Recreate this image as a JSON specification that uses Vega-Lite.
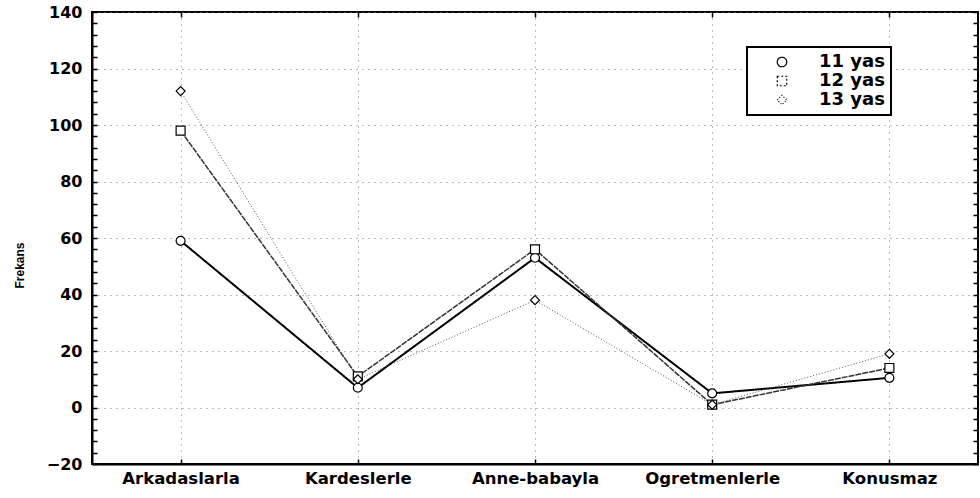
{
  "$schema": "https://vega.github.io/schema/vega-lite/v6.json",
  "width": 886,
  "height": 452,
  "autosize": {"type": "none"},
  "padding": {"left": 92, "top": 12, "right": 2, "bottom": 34},
  "background": "white",
  "config": {
    "view": {"stroke": "black", "strokeWidth": 2},
    "font": "DejaVu Sans"
  },
  "data": {
    "values": [
      {"cat": "Arkadaslarla", "series": "11 yas", "value": 59},
      {"cat": "Kardeslerle", "series": "11 yas", "value": 7},
      {"cat": "Anne-babayla", "series": "11 yas", "value": 53},
      {"cat": "Ogretmenlerle", "series": "11 yas", "value": 5},
      {"cat": "Konusmaz", "series": "11 yas", "value": 10.5},
      {"cat": "Arkadaslarla", "series": "12 yas", "value": 98},
      {"cat": "Kardeslerle", "series": "12 yas", "value": 11},
      {"cat": "Anne-babayla", "series": "12 yas", "value": 56},
      {"cat": "Ogretmenlerle", "series": "12 yas", "value": 1},
      {"cat": "Konusmaz", "series": "12 yas", "value": 14},
      {"cat": "Arkadaslarla", "series": "13 yas", "value": 112},
      {"cat": "Kardeslerle", "series": "13 yas", "value": 10},
      {"cat": "Anne-babayla", "series": "13 yas", "value": 38},
      {"cat": "Ogretmenlerle", "series": "13 yas", "value": 1},
      {"cat": "Konusmaz", "series": "13 yas", "value": 19}
    ]
  },
  "resolve": {"axis": {"x": "independent", "y": "independent"}},
  "layer": [
    {
      "mark": {"type": "line"},
      "encoding": {
        "x": {
          "field": "cat", "type": "nominal", "sort": null,
          "scale": {"type": "point", "padding": 0.5},
          "axis": {
            "orient": "bottom", "title": null, "labelAngle": 0,
            "labelFont": "DejaVu Sans", "labelFontWeight": "bold", "labelFontSize": 16.5, "labelColor": "black",
            "labelPadding": 11,
            "tickSize": -5, "tickColor": "black", "tickWidth": 1.5,
            "domainColor": "black", "domainWidth": 2,
            "grid": true, "gridColor": "#777", "gridDash": [1, 5], "gridWidth": 1
          }
        },
        "y": {
          "field": "value", "type": "quantitative",
          "scale": {"domain": [-20, 140], "nice": false, "zero": false},
          "axis": {
            "orient": "left",
            "title": "Frekans",
            "titleFont": "Liberation Sans", "titleFontWeight": "bold", "titleFontSize": 12, "titleColor": "black",
            "titleX": -66, "titleY": 253,
            "values": [-20,-16,-12,-8,-4,0,4,8,12,16,20,24,28,32,36,40,44,48,52,56,60,64,68,72,76,80,84,88,92,96,100,104,108,112,116,120,124,128,132,136,140],
            "labelExpr": "datum.value % 20 === 0 ? datum.label : ''",
            "labelOverlap": false,
            "labelFont": "DejaVu Sans", "labelFontWeight": "bold", "labelFontSize": 16, "labelColor": "black",
            "labelPadding": 15,
            "tickSize": -5,
            "tickColor": "black", "tickWidth": 1.5,
            "domainColor": "black", "domainWidth": 2,
            "grid": true, "gridColor": "#777", "gridDash": [1, 5], "gridWidth": 1,
            "gridOpacity": {"condition": {"test": "datum.value % 20 === 0", "value": 1}, "value": 0}
          }
        },
        "detail": {"field": "series"},
        "strokeDash": {
          "field": "series", "type": "nominal", "legend": null,
          "scale": {"domain": ["11 yas", "12 yas", "13 yas"], "range": [[1, 0], [6, 1], [1, 2]]}
        },
        "strokeWidth": {
          "field": "series", "type": "nominal", "legend": null,
          "scale": {"domain": ["11 yas", "12 yas", "13 yas"], "range": [2, 1, 1.3]}
        },
        "color": {
          "field": "series", "type": "nominal", "legend": null,
          "scale": {"domain": ["11 yas", "12 yas", "13 yas"], "range": ["#000000", "#333333", "#555555"]}
        }
      }
    },
    {
      "mark": {"type": "point", "fill": "white", "stroke": "black", "strokeWidth": 1.2, "opacity": 1, "size": 80},
      "encoding": {
        "x": {
          "field": "cat", "type": "nominal", "sort": null,
          "axis": {
            "orient": "top", "title": null, "labels": false,
            "tickSize": -5, "tickColor": "black", "tickWidth": 1.5,
            "domain": false, "grid": false
          }
        },
        "y": {
          "field": "value", "type": "quantitative",
          "axis": {
            "orient": "right", "title": null, "labels": false,
            "values": [-20,-16,-12,-8,-4,0,4,8,12,16,20,24,28,32,36,40,44,48,52,56,60,64,68,72,76,80,84,88,92,96,100,104,108,112,116,120,124,128,132,136,140],
            "tickSize": -5, "tickColor": "black", "tickWidth": 1.5,
            "domain": false, "grid": false
          }
        },
        "shape": {
          "field": "series", "type": "nominal",
          "scale": {"range": ["circle", "square", "diamond"]},
          "legend": {
            "title": null,
            "orient": "none", "legendX": 655, "legendY": 35,
            "padding": 6,
            "strokeColor": "black",
            "fillColor": "white",
            "labelFont": "DejaVu Sans", "labelFontWeight": "bold", "labelFontSize": 18, "labelColor": "black",
            "labelOffset": 28,
            "symbolOffset": 20,
            "symbolSize": 256,
            "symbolStrokeColor": "black", "symbolFillColor": "white", "symbolStrokeWidth": 1,
            "symbolOpacity": 1,
            "rowPadding": 1,
            "encoding": {
              "legend": {"strokeWidth": {"value": 2}},
              "symbols": {
                "strokeDash": {"value": {"expr": "datum.value == '11 yas' ? [1,0] : datum.value == '12 yas' ? [2,2] : [1,2]"}},
                "stroke": {"value": "black"},
                "fill": {"value": "white"},
                "opacity": {"value": 1},
                "fillOpacity": {"value": 1},
                "strokeOpacity": {"value": 1},
                "strokeWidth": {"value": 1.2},
                "size": {"value": 90}
              }
            }
          }
        }
      }
    }
  ]
}
